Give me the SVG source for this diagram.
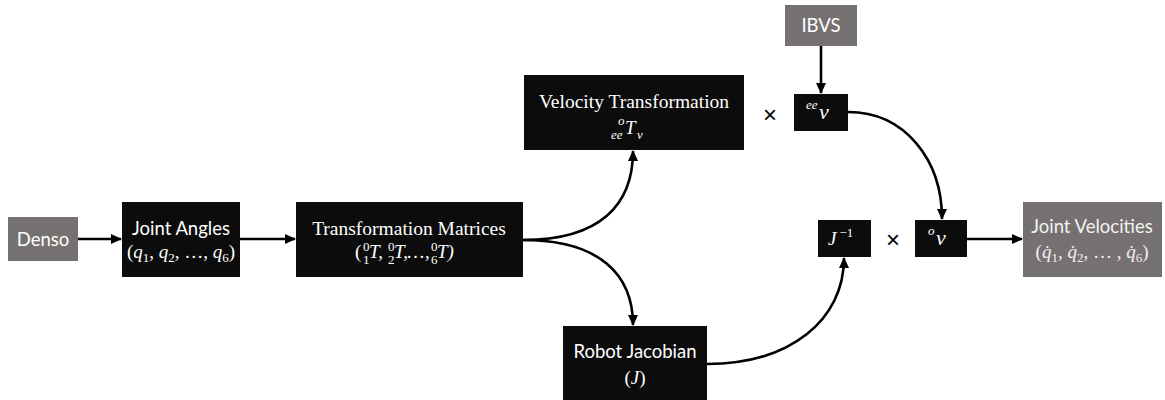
<svg xmlns="http://www.w3.org/2000/svg" width="1165" height="400" viewBox="0 0 1165 400">
  <defs>
    <marker id="arrow" markerWidth="11" markerHeight="10" refX="10" refY="5" orient="auto" markerUnits="userSpaceOnUse">
      <path d="M0,0 L11,5 L0,10 Z" fill="#000"/>
    </marker>
    <style>
      .gray { fill: #767171; }
      .dark { fill: #0c0c0c; }
      .sans { font-family: "Lato", "Open Sans", "Liberation Sans", sans-serif; font-size: 18.5px; fill: #ffffff; text-anchor: middle; }
      .serif { font-family: "Liberation Serif", "DejaVu Serif", serif; font-size: 19.5px; fill: #ffffff; text-anchor: middle; }
      .math { font-family: "Liberation Serif", "DejaVu Serif", serif; font-size: 19px; fill: #ffffff; }
      .it { font-style: italic; }
      .sm { font-size: 13px; }
      .op { font-family: "Liberation Sans", "DejaVu Sans", sans-serif; font-size: 24px; fill: #000; text-anchor: middle; }
      .wire { fill: none; stroke: #000; stroke-width: 2.6; }
    </style>
  </defs>

  <!-- connectors -->
  <g id="connectors">
    <path class="wire" d="M78,239 L121,239" marker-end="url(#arrow)"/>
    <path class="wire" d="M240,239 L295,239" marker-end="url(#arrow)"/>
    <path class="wire" d="M523,240 C600,240 633,205 633,151" marker-end="url(#arrow)"/>
    <path class="wire" d="M523,240 C600,240 633,275 633,325" marker-end="url(#arrow)"/>
    <path class="wire" d="M821,46 L821,93" marker-end="url(#arrow)"/>
    <path class="wire" d="M848,112 C905,112 942,160 942,219" marker-end="url(#arrow)"/>
    <path class="wire" d="M707,364 C790,364 844,320 844,258" marker-end="url(#arrow)"/>
    <path class="wire" d="M967,239 L1022,239" marker-end="url(#arrow)"/>
  </g>

  <!-- source: Denso -->
  <g id="denso">
    <rect class="gray" x="8" y="217" width="70" height="44"/>
    <text class="sans" x="43" y="246">Denso</text>
  </g>

  <!-- joint angles -->
  <g id="joint-angles">
    <rect class="dark" x="122" y="202" width="118" height="75"/>
    <text class="sans" x="181" y="235">Joint Angles</text>
    <text class="math" x="181" y="258" style="text-anchor:middle">(<tspan class="it">q</tspan><tspan class="sm" dy="4">1</tspan><tspan dy="-4">, </tspan><tspan class="it">q</tspan><tspan class="sm" dy="4">2</tspan><tspan dy="-4">, …, </tspan><tspan class="it">q</tspan><tspan class="sm" dy="4">6</tspan><tspan dy="-4">)</tspan></text>
  </g>

  <!-- transformation matrices -->
  <g id="transformation-matrices">
    <rect class="dark" x="296" y="202" width="227" height="75"/>
    <text class="serif" x="409" y="235">Transformation Matrices</text>
    <text class="math"><tspan x="355" y="258">(</tspan><tspan class="sm" x="363" y="251">0</tspan><tspan class="sm" x="363" y="264">1</tspan><tspan class="it" x="369" y="258">T,</tspan><tspan class="sm" x="388" y="251">0</tspan><tspan class="sm" x="388" y="264">2</tspan><tspan class="it" x="394" y="258">T,</tspan><tspan x="406" y="258">…,</tspan><tspan class="sm" x="431" y="251">0</tspan><tspan class="sm" x="431" y="264">6</tspan><tspan class="it" x="437" y="258">T)</tspan></text>
  </g>

  <!-- velocity transformation -->
  <g id="velocity-transformation">
    <rect class="dark" x="524" y="75" width="220" height="75"/>
    <text class="serif" x="634" y="108">Velocity Transformation</text>
    <text class="math it"><tspan class="sm" x="611" y="139">ee</tspan><tspan class="sm" x="618" y="125">o</tspan><tspan x="625" y="134">T</tspan><tspan class="sm" x="637" y="139">v</tspan></text>
  </g>

  <text class="op" x="770" y="123">×</text>

  <!-- IBVS -->
  <g id="ibvs">
    <rect class="gray" x="785" y="5" width="72" height="41"/>
    <text class="sans" x="821" y="32">IBVS</text>
  </g>

  <!-- end-effector velocity -->
  <g id="ee-velocity">
    <rect class="dark" x="794" y="94" width="54" height="37"/>
    <text class="math it"><tspan class="sm" x="806" y="109">ee</tspan><tspan x="819" y="119" style="font-size:22px">v</tspan></text>
  </g>

  <!-- inverse jacobian -->
  <g id="inverse-jacobian">
    <rect class="dark" x="818" y="220" width="53" height="37"/>
    <text class="math" x="828" y="245"><tspan class="it">J</tspan><tspan class="sm" dx="3" dy="-8">−1</tspan></text>
  </g>

  <text class="op" x="893" y="248">×</text>

  <!-- base velocity -->
  <g id="base-velocity">
    <rect class="dark" x="915" y="220" width="52" height="37"/>
    <text class="math it"><tspan class="sm" x="928" y="235">o</tspan><tspan x="936" y="245" style="font-size:22px">v</tspan></text>
  </g>

  <!-- joint velocities -->
  <g id="joint-velocities">
    <rect class="gray" x="1023" y="202" width="139" height="75"/>
    <text class="sans" x="1092" y="233" style="fill:#f2f2f2">Joint Velocities</text>
    <text class="math" x="1092" y="258" style="fill:#f2f2f2;text-anchor:middle">(<tspan class="it">q̇</tspan><tspan class="sm" dy="4">1</tspan><tspan dy="-4">, </tspan><tspan class="it">q̇</tspan><tspan class="sm" dy="4">2</tspan><tspan dy="-4">, … , </tspan><tspan class="it">q̇</tspan><tspan class="sm" dy="4">6</tspan><tspan dy="-4">)</tspan></text>
  </g>

  <!-- robot jacobian -->
  <g id="robot-jacobian">
    <rect class="dark" x="563" y="326" width="144" height="76"/>
    <text class="sans" x="635" y="358">Robot Jacobian</text>
    <text class="math" x="635" y="384" style="text-anchor:middle">(<tspan class="it">J</tspan>)</text>
  </g>
</svg>
